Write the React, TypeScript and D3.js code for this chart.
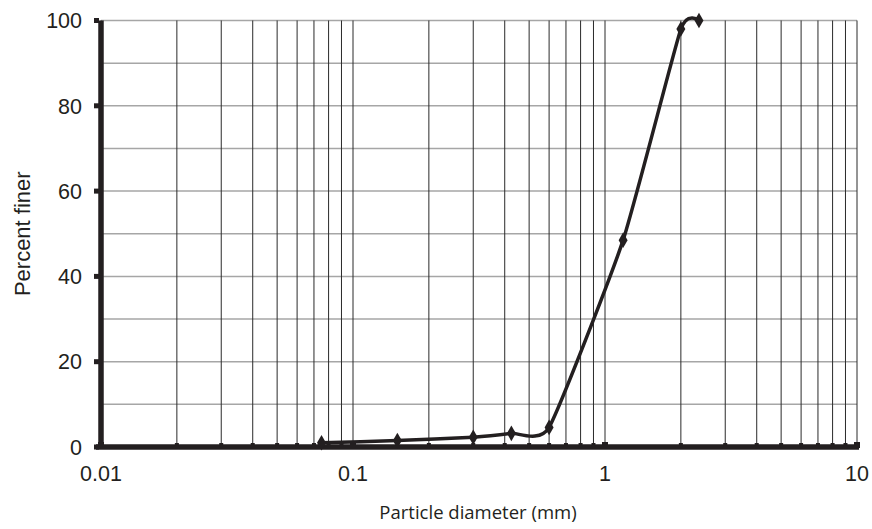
import * as d3 from "d3";

// sieve analysis: particle size (mm) vs percent finer
const sizes = [0.075, 0.15, 0.3, 0.425, 0.6, 1.18, 2.0, 2.36];
const finer = [1.0, 1.5, 2.3, 3.2, 4.6, 48.5, 98, 100];

const xTickLabels = ["0.01", "0.1", "1", "10"];
const yTicks = [0, 20, 40, 60, 80, 100];
const yGrid = [10, 20, 30, 40, 50, 60, 70, 80, 90, 100];

export default function App() {
    const width = 872;
    const height = 529;
    const margin = { top: 20.5, right: 15, bottom: 82, left: 101 };

    const x = d3
        .scaleLog()
        .domain([0.01, 10])
        .range([margin.left, width - margin.right]);
    const y = d3
        .scaleLinear()
        .domain([0, 100])
        .range([height - margin.bottom, margin.top]);

    // every minor log tick between 0.01 and 10
    const xGrid: number[] = [];
    [0.01, 0.1, 1].forEach((dec) => {
        for (let k = 1; k < 10; k++) xGrid.push(+(dec * k).toPrecision(3));
    });
    xGrid.push(10);

    const pts = sizes.map((s, i) => [x(s), y(finer[i])] as [number, number]);
    const line = d3.line().curve(d3.curveCardinal.tension(0.5))(pts) || "";
    const diamond = d3.symbol().type(d3.symbolDiamond).size(70)() || "";

    const y0 = y(0);
    const labelFont = "'Liberation Sans', Arial, sans-serif";

    return (
        <svg
            width={width}
            height={height}
            style={{ position: "absolute", left: 0, top: 0, background: "#fff" }}
        >
            {/* horizontal grid */}
            {yGrid.map((v) => (
                <line
                    key={"h" + v}
                    x1={x(0.01)}
                    x2={x(10)}
                    y1={y(v)}
                    y2={y(v)}
                    stroke="#a6a6a6"
                    strokeWidth={1.5}
                />
            ))}
            {/* vertical grid */}
            {xGrid.map((v) => (
                <line
                    key={"v" + v}
                    x1={x(v)}
                    x2={x(v)}
                    y1={y(100)}
                    y2={y0}
                    stroke="#2a2a2a"
                    strokeWidth={1}
                />
            ))}
            {/* axes */}
            <line x1={x(0.01)} x2={x(0.01)} y1={y(100)} y2={y0 + 2} stroke="#231f20" strokeWidth={5.5} />
            <line x1={x(0.01) - 5} x2={x(10) + 2} y1={y0} y2={y0} stroke="#231f20" strokeWidth={5.5} />
            {yTicks.map((v) => (
                <rect key={"yt" + v} x={x(0.01) - 7} y={y(v) - 2.5} width={5} height={5} fill="#231f20" />
            ))}
            {xGrid.map((v) => {
                const dec = [0.01, 0.1, 1, 10].includes(v);
                const s = dec ? 6 : 4;
                return (
                    <rect
                        key={"xt" + v}
                        x={x(v) - s / 2}
                        y={y0 - 2 - s / 2}
                        width={s}
                        height={s}
                        fill="#231f20"
                    />
                );
            })}
            {/* tick labels */}
            {yTicks.map((v) => (
                <text
                    key={"yl" + v}
                    x={82}
                    y={y(v)}
                    dy="0.36em"
                    textAnchor="end"
                    fontFamily={labelFont}
                    fontSize={21.5}
                    fill="#231f20"
                >
                    {v}
                </text>
            ))}
            {xTickLabels.map((t) => (
                <text
                    key={"xl" + t}
                    x={x(+t)}
                    y={481}
                    textAnchor="middle"
                    fontFamily={labelFont}
                    fontSize={21.5}
                    fill="#231f20"
                >
                    {t}
                </text>
            ))}
            {/* axis titles */}
            <text
                transform={`translate(30,${(y(0) + y(100)) / 2}) rotate(-90)`}
                textAnchor="middle"
                fontFamily={labelFont}
                fontSize={22}
                fill="#231f20"
            >
                Percent finer
            </text>
            <text
                x={478}
                y={519}
                textAnchor="middle"
                fontFamily="'Open Sans', sans-serif"
                fontSize={18.5}
                fill="#231f20"
            >
                Particle diameter (mm)
            </text>
            {/* gradation curve */}
            <path d={line} fill="none" stroke="#231f20" strokeWidth={3.5} />
            {pts.map((p, i) => (
                <path key={"m" + i} d={diamond} transform={`translate(${p[0]},${p[1]})`} fill="#231f20" />
            ))}
        </svg>
    );
}
